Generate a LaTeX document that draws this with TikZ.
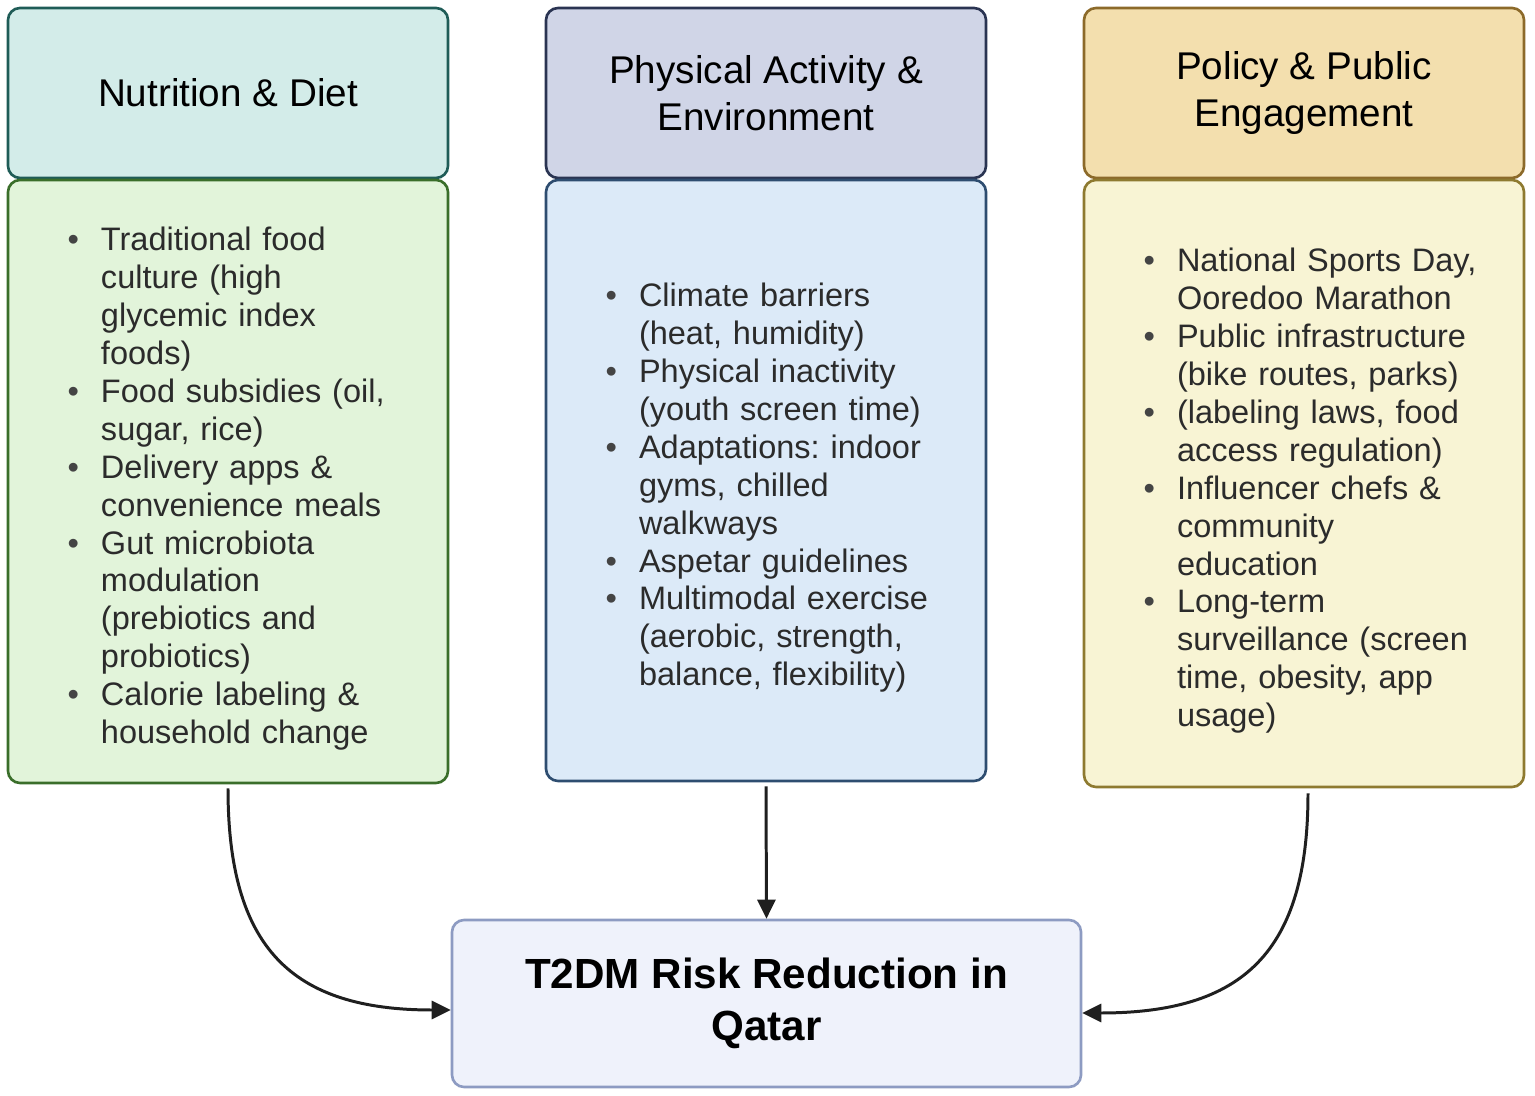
\documentclass[tikz,border=0pt]{standalone}
\usepackage{fontspec}
\setmainfont{Liberation Sans}
\usepackage{tikz}
\usetikzlibrary{arrows.meta,%
                positioning}
\frenchspacing

\definecolor{DietHead}{HTML}{D3ECE9}
\definecolor{DietHeadLine}{HTML}{1F5C57}
\definecolor{DietBody}{HTML}{E2F4DA}
\definecolor{DietBodyLine}{HTML}{3A6E2A}
\definecolor{ActHead}{HTML}{D0D5E7}
\definecolor{ActHeadLine}{HTML}{2A3452}
\definecolor{ActBody}{HTML}{DCEAF8}
\definecolor{ActBodyLine}{HTML}{2E4D70}
\definecolor{PolHead}{HTML}{F3DFAE}
\definecolor{PolHeadLine}{HTML}{8C6A2A}
\definecolor{PolBody}{HTML}{F8F4D4}
\definecolor{PolBodyLine}{HTML}{8E7A30}
\definecolor{RiskFill}{HTML}{EFF2FB}
\definecolor{RiskLine}{HTML}{8D9BC2}
\definecolor{BodyText}{HTML}{2B2B2B}
\definecolor{Dot}{HTML}{444444}

\newenvironment{bullets}{\raggedright
  \begin{list}{\textcolor{Dot}{\textbullet}}{%
    \setlength{\leftmargin}{1.46cm}\setlength{\labelwidth}{0.5cm}%
    \setlength{\labelsep}{0.44cm}\setlength{\itemsep}{0pt}%
    \setlength{\parsep}{0pt}\setlength{\topsep}{0pt}%
    \setlength{\partopsep}{0pt}}}{\end{list}}

\begin{document}
\begin{tikzpicture}
  \tikzstyle{HeadStyle}=[draw,rounded corners=0.24cm,line width=1.5pt,
    minimum width=8.8cm,minimum height=3.4cm,align=center,
    font=\fontsize{22}{27}\selectfont]
  \tikzstyle{ListStyle}=[draw,rounded corners=0.24cm,line width=1.5pt,
    text width=8.0cm,inner xsep=0.4cm,text=BodyText,
    font=\fontsize{18.5}{21.6}\selectfont]
  \tikzstyle{LinkStyle}=[line width=1.7pt,black!88,
    -{Triangle[length=0.38cm,width=0.36cm]}]
  \useasboundingbox (0,0) rectangle (30.7,-21.92);
  % headers
  \node[HeadStyle,fill=DietHead,draw=DietHeadLine] (Diet) at (4.56,-1.86)
    {Nutrition \& Diet};
  \node[HeadStyle,fill=ActHead,draw=ActHeadLine] (Activity) at (15.32,-1.86)
    {Physical Activity \&\\Environment};
  \node[HeadStyle,fill=PolHead,draw=PolHeadLine] (Policy) at (26.08,-1.86)
    {Policy \& Public\\Engagement};
  % lists
  \node[ListStyle,fill=DietBody,draw=DietBodyLine,minimum height=12.06cm]
    (DietList) at (4.56,-9.63) {\begin{bullets}
      \item Traditional food\\culture (high\\glycemic index\\foods)
      \item Food subsidies (oil,\\sugar, rice)
      \item Delivery apps \&\\convenience meals
      \item Gut microbiota\\modulation\\(prebiotics and\\probiotics)
      \item Calorie labeling \&\\household change
    \end{bullets}};
  \node[ListStyle,fill=ActBody,draw=ActBodyLine,minimum height=12.02cm]
    (ActivityList) at (15.32,-9.61) {\begin{bullets}
      \item Climate barriers\\(heat, humidity)
      \item Physical inactivity\\(youth screen time)
      \item Adaptations: indoor\\gyms, chilled\\walkways
      \item Aspetar guidelines
      \item Multimodal exercise\\(aerobic, strength,\\balance, flexibility)
    \end{bullets}};
  \node[ListStyle,fill=PolBody,draw=PolBodyLine,minimum height=12.14cm]
    (PolicyList) at (26.08,-9.67) {\begin{bullets}
      \item National Sports Day,\\Ooredoo Marathon
      \item Public infrastructure\\(bike routes, parks)
      \item (labeling laws, food\\access regulation)
      \item Influencer chefs \&\\community\\education
      \item Long-term\\surveillance (screen\\time, obesity, app\\usage)
    \end{bullets}};
  % outcome
  \node[draw=RiskLine,fill=RiskFill,rounded corners=0.24cm,line width=1.5pt,
    minimum width=12.58cm,minimum height=3.34cm,align=center,
    font=\fontsize{24}{30}\selectfont\bfseries] (Risk) at (15.33,-20.07)
    {T2DM Risk Reduction in\\Qatar};
  \draw[LinkStyle] ([yshift=-0.08cm]DietList.south) to[out=-90,in=180,looseness=1.3]
    ([yshift=-0.13cm]Risk.west);
  \draw[LinkStyle] ([yshift=-0.08cm]ActivityList.south) -- (Risk.north);
  \draw[LinkStyle] ([xshift=0.08cm,yshift=-0.1cm]PolicyList.south)
    to[out=-90,in=0,looseness=1.3] ([yshift=-0.19cm]Risk.east);
%  \draw[LinkStyle] (Diet) -- (DietList);
\end{tikzpicture}
\end{document}
